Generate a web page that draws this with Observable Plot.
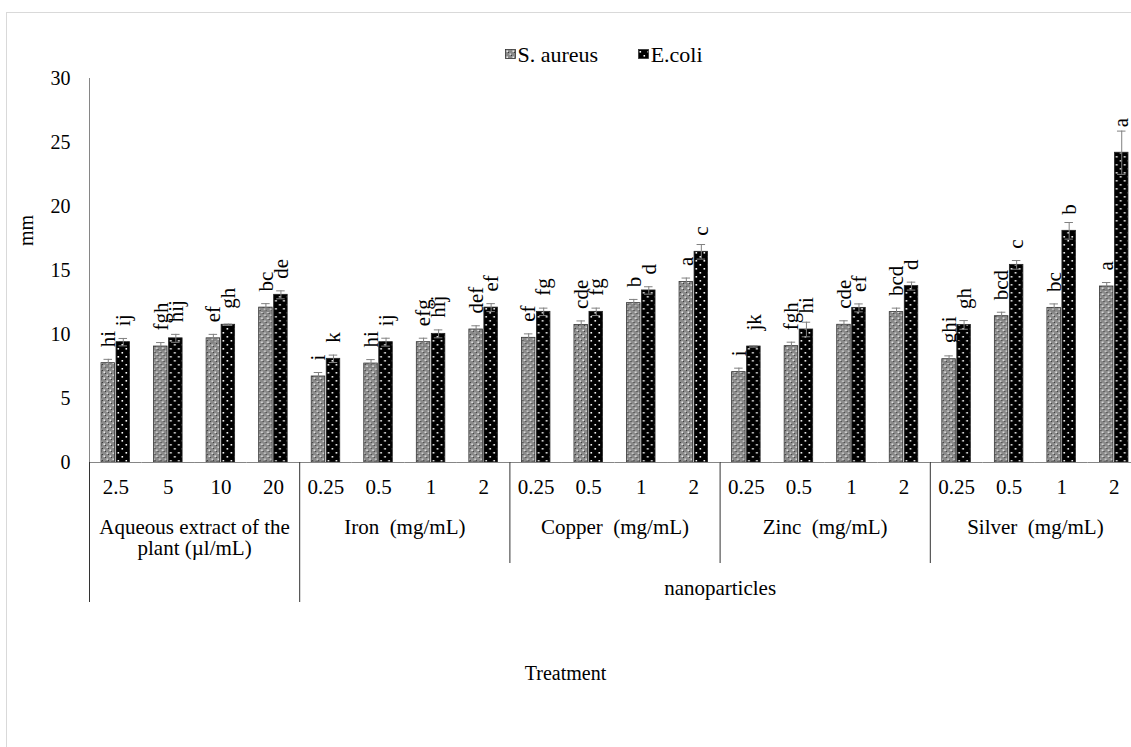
<!DOCTYPE html>
<html>
<head>
<meta charset="utf-8">
<script src="https://cdn.jsdelivr.net/npm/d3@7"></script>
<script src="https://cdn.jsdelivr.net/npm/@observablehq/plot@0.6"></script>
<style>
  html, body { margin: 0; padding: 0; background: #fff; overflow: hidden; width: 1131px; height: 747px; }
  #wrap { position: relative; width: 1140px; height: 747px; font-family: "Liberation Serif", "Times New Roman", serif; color: #000; }
  #border { position: absolute; left: 6px; top: 12px; width: 1300px; height: 900px; border: 1.5px solid #d9d9d9; box-sizing: border-box; pointer-events: none; }
  #legend { position: relative; height: 70px; }
  #legendItems { position: absolute; left: 505px; top: 44px; display: flex; gap: 40px; font-family: "Liberation Serif", serif; font-size: 22px; line-height: 22px; }
  .item { display: inline-flex; align-items: center; white-space: pre; font-family: "Liberation Serif", serif; }
  .item svg { margin-right: 1.5px; margin-top: -3px; }
  #chart svg { display: block; }
  #caption { width: 1131px; text-align: center; font-family: "Liberation Serif", serif; font-size: 20px; line-height: 22px; margin-top: 7px; }
</style>
</head>
<body>
<svg width="0" height="0" style="position:absolute">
  <defs>
    <pattern id="patS" width="6" height="6" patternUnits="userSpaceOnUse">
      <rect width="6" height="6" fill="#8a8a8a"/>
      <rect x="0" y="0" width="1" height="1" fill="#3a3a3a"/>
      <rect x="3" y="3" width="1" height="1" fill="#3a3a3a"/>
      <rect x="1.5" y="1.5" width="1.4" height="1.4" fill="#fff"/>
      <rect x="4.5" y="4.5" width="1.4" height="1.4" fill="#e8e8e8"/>
    </pattern>
    <pattern id="patE" width="8" height="8" patternUnits="userSpaceOnUse">
      <rect width="8" height="8" fill="#000"/>
      <rect x="1.5" y="2" width="1.6" height="1.6" fill="#fff"/>
      <rect x="5.5" y="6" width="1.6" height="1.6" fill="#fff"/>
    </pattern>
  </defs>
</svg>
<div id="wrap">
  <div id="border"></div>
  <div id="legend"><div id="legendItems"></div></div>
  <div id="chart"></div>
  <div id="caption"></div>
</div>
<script>
// ---------------- data ----------------
const series = ["S. aureus", "E.coli"];
const seriesPatterns = ["url(#patS)", "url(#patE)"];
const groupLabels = ["Aqueous extract of the\nplant (µl/mL)", "Iron  (mg/mL)", "Copper  (mg/mL)", "Zinc  (mg/mL)", "Silver  (mg/mL)"];
const parentLabels = ["", "nanoparticles", "nanoparticles", "nanoparticles", "nanoparticles"];
const concLabels = [
  ["2.5", "5", "10", "20"],
  ["0.25", "0.5", "1", "2"],
  ["0.25", "0.5", "1", "2"],
  ["0.25", "0.5", "1", "2"],
  ["0.25", "0.5", "1", "2"]
];
const sAureus = [7.76, 9.06, 9.70, 12.10, 6.72, 7.73, 9.40, 10.39, 9.74, 10.75, 12.45, 14.10, 7.06, 9.09, 10.76, 11.75, 8.07, 11.43, 12.08, 13.75];
const sAureusErr = [0.30, 0.31, 0.31, 0.31, 0.31, 0.31, 0.31, 0.29, 0.31, 0.31, 0.29, 0.31, 0.31, 0.31, 0.31, 0.31, 0.26, 0.31, 0.31, 0.31];
const sAureusLetters = ["hi", "fgh", "ef", "bc", "i", "hi", "efg", "def", "ef", "cde", "b", "a", "i", "fgh", "cde", "bcd", "ghi", "bcd", "bc", "a"];
const eColi = [9.40, 9.70, 10.76, 13.10, 8.10, 9.40, 10.05, 12.10, 11.77, 11.77, 13.44, 16.46, 9.06, 10.39, 12.08, 13.78, 10.75, 15.44, 18.10, 24.20];
const eColiErr = [0.29, 0.31, 0.05, 0.31, 0.29, 0.31, 0.31, 0.31, 0.29, 0.29, 0.29, 0.57, 0.05, 0.57, 0.31, 0.31, 0.34, 0.34, 0.65, 1.69];
const eColiLetters = ["ij", "hij", "gh", "de", "k", "ij", "hij", "ef", "fg", "fg", "d", "c", "jk", "hi", "ef", "d", "gh", "c", "b", "a"];
const yTicks = [0, 5, 10, 15, 20, 25, 30];
const yLabel = "mm";
const xTitle = "Treatment";

// ---------------- tables ----------------
const keys = [];
concLabels.forEach((cs, g) => cs.forEach(c => keys.push(g + "|" + c)));
const rows = [];
keys.forEach((k, i) => {
  rows.push({key: k, series: series[0], value: sAureus[i], err: sAureusErr[i], letter: sAureusLetters[i]});
  rows.push({key: k, series: series[1], value: eColi[i], err: eColiErr[i], letter: eColiLetters[i]});
});
const groupRows = groupLabels.map((name, g) => ({key: keys[g * 4 + 1], name}));
const parentRows = [];
{
  let start = 0;
  for (let g = 1; g <= parentLabels.length; g++) {
    if (g === parentLabels.length || parentLabels[g] !== parentLabels[start]) {
      if (parentLabels[start]) {
        const i0 = start * 4, i1 = g * 4;
        const mid = (i0 + i1) / 2;
        parentRows.push({key: keys[mid - 1], name: parentLabels[start]});
      }
      start = g;
    }
  }
}

// ---------------- legend ----------------
const li = document.getElementById("legendItems");
series.forEach((s, i) => {
  const item = document.createElement("span");
  item.className = "item";
  item.innerHTML = `<svg width="11" height="10"><rect x="0.5" y="0.5" width="10" height="9" fill="${seriesPatterns[i]}" stroke="#333" stroke-width="0.8"/></svg><span>${s}</span>`;
  li.appendChild(item);
});
document.getElementById("caption").textContent = xTitle;

// ---------------- plot ----------------
const font = "Liberation Serif, Times New Roman, serif";
const plot = Plot.plot({
  width: 1140,
  height: 585,
  marginTop: 8,
  marginBottom: 193,
  marginLeft: 89,
  marginRight: 0,
  style: {fontFamily: font, fontSize: "21px", color: "#000", background: "transparent", maxWidth: "none", overflow: "visible"},
  fx: {domain: keys, padding: 0, paddingInner: 0, paddingOuter: 0, round: false},
  x: {domain: series, paddingInner: 0.1, paddingOuter: 0.8, round: false, axis: null},
  y: {domain: [0, 30]},
  marks: [
    Plot.axisY(yTicks, {tickSize: 0, tickPadding: 19, label: null, fontSize: 20, fontFamily: font}),
    Plot.axisFx({anchor: "bottom", tickSize: 0, tickPadding: 17, tickFormat: k => k.split("|")[1], label: null, fontSize: 21, fontFamily: font}),
    Plot.barY(rows, {filter: d => d.series === series[0], fx: "key", x: "series", y: "value", fill: seriesPatterns[0], stroke: "#333", strokeWidth: 0.8}),
    Plot.barY(rows, {filter: d => d.series === series[1], fx: "key", x: "series", y: "value", fill: seriesPatterns[1], stroke: "#222", strokeWidth: 0.8}),
    Plot.ruleX(rows, {fx: "key", x: "series", y1: d => d.value - d.err, y2: d => d.value + d.err, stroke: "#808080", strokeWidth: 1}),
    Plot.tickY(rows, {fx: "key", x: "series", y: d => d.value + d.err, stroke: "#808080", strokeWidth: 1, insetLeft: 2.5, insetRight: 2.5}),
    Plot.tickY(rows, {fx: "key", x: "series", y: d => d.value - d.err, stroke: "#808080", strokeWidth: 1, insetLeft: 2.5, insetRight: 2.5}),
    Plot.ruleY([0], {stroke: "#868686", strokeWidth: 1}),
    Plot.text(rows, {fx: "key", x: "series", y: d => Math.max(d.value + 1.25, d.value + d.err + 0.3), text: "letter", rotate: -90, textAnchor: "start", lineAnchor: "middle", fontSize: 21, fontFamily: font}),
    Plot.text(groupRows, {fx: "key", text: "name", frameAnchor: "bottom-right", textAnchor: "middle", lineAnchor: "top", dy: 56, fontSize: 21, lineHeight: 1.03, fontFamily: font}),
    Plot.text(parentRows, {fx: "key", text: "name", frameAnchor: "bottom-right", textAnchor: "middle", lineAnchor: "top", dy: 118, fontSize: 21, fontFamily: font}),
    Plot.text([yLabel], {fx: () => keys[0], text: d => d, frameAnchor: "left", textAnchor: "middle", dx: -63, dy: -40, rotate: -90, fontSize: 20, fontFamily: font})
  ]
});
document.getElementById("chart").appendChild(plot);

// axis line and category separators, positioned from Plot's own scales
const fxS = plot.scale("fx"), yS = plot.scale("y");
const bw = fxS.bandwidth;
const y0 = yS.apply(0);
const svg = d3.select(plot);
const g = svg.append("g").attr("stroke-width", 1).attr("fill", "none");
g.append("line")
  .attr("x1", fxS.apply(keys[0]) + 0.5).attr("x2", fxS.apply(keys[0]) + 0.5)
  .attr("y1", yS.apply(30)).attr("y2", y0)
  .attr("stroke", "#868686");
const seps = [];
groupLabels.forEach((_, gi) => {
  const long = gi === 0 || parentLabels[gi] !== parentLabels[gi - 1];
  seps.push({x: fxS.apply(keys[gi * 4]), long});
});
seps.push({x: fxS.apply(keys[keys.length - 1]) + bw, long: true});
g.selectAll("line.sep").data(seps).join("line")
  .attr("class", "sep")
  .attr("x1", d => d.x + 0.5).attr("x2", d => d.x + 0.5)
  .attr("y1", y0).attr("y2", d => y0 + (d.long ? 140 : 101))
  .attr("stroke", "#333");
</script>
</body>
</html>
